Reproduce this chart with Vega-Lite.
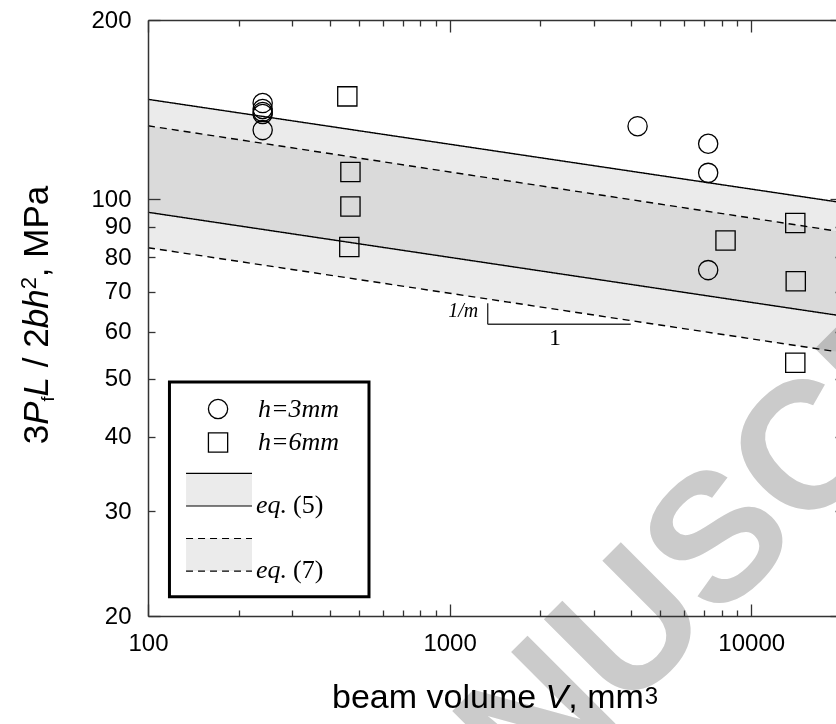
{
  "$schema": "https://vega.github.io/schema/vega-lite/v6.json",
  "width": 694,
  "height": 596,
  "autosize": {"type": "none"},
  "padding": {"left": 148, "top": 20, "right": -6, "bottom": 108},
  "background": "white",
  "config": {"view": {"stroke": null}},
  "datasets": {
    "bands": [
      {"eq": "5", "V": 100, "lo": 95.15, "hi": 147.2},
      {"eq": "5", "V": 20000, "lo": 63.75, "hi": 98.78},
      {"eq": "7", "V": 100, "lo": 82.98, "hi": 132.9},
      {"eq": "7", "V": 20000, "lo": 55.35, "hi": 88.2}
    ],
    "swatches": [
      {"eq": "5", "V": 133.7, "lo": 30.59, "hi": 34.71},
      {"eq": "5", "V": 221.2, "lo": 30.59, "hi": 34.71},
      {"eq": "7", "V": 133.7, "lo": 23.79, "hi": 26.98},
      {"eq": "7", "V": 221.2, "lo": 23.79, "hi": 26.98}
    ],
    "points": [
      {"h": "3mm", "V": 240, "S": 145.1},
      {"h": "3mm", "V": 240, "S": 141.8},
      {"h": "3mm", "V": 240, "S": 140.2},
      {"h": "3mm", "V": 240, "S": 139.1},
      {"h": "3mm", "V": 240, "S": 130.7},
      {"h": "3mm", "V": 4200, "S": 132.7},
      {"h": "3mm", "V": 7200, "S": 124.0},
      {"h": "3mm", "V": 7200, "S": 110.8},
      {"h": "3mm", "V": 7200, "S": 76.1},
      {"h": "6mm", "V": 458, "S": 148.9},
      {"h": "6mm", "V": 469, "S": 111.2},
      {"h": "6mm", "V": 469, "S": 97.3},
      {"h": "6mm", "V": 465, "S": 83.2},
      {"h": "6mm", "V": 8220, "S": 85.3},
      {"h": "6mm", "V": 14000, "S": 91.3},
      {"h": "6mm", "V": 14050, "S": 72.9},
      {"h": "6mm", "V": 14000, "S": 53.2}
    ],
    "legendSymbols": [
      {"h": "3mm", "V": 170.7, "S": 44.5},
      {"h": "6mm", "V": 170.7, "S": 39.09}
    ],
    "legendBox": [{"V": 117.8, "V2": 540.4, "S": 49.39, "S2": 21.55}],
    "slope": [
      {"V": 1337.6, "V2": 1337.6, "S": 66.94, "S2": 61.73},
      {"V": 1337.6, "V2": 3986, "S": 61.73, "S2": 61.73}
    ],
    "legendItalic": [
      {"t": "h=3mm", "V": 231.6, "S": 43.15},
      {"t": "h=6mm", "V": 231.6, "S": 37.91},
      {"t": "eq.", "V": 228.1, "S": 29.78},
      {"t": "eq.", "V": 228.1, "S": 23.16}
    ],
    "legendUpright": [
      {"t": "(5)", "V": 302.6, "S": 29.78},
      {"t": "(7)", "V": 302.6, "S": 23.16}
    ],
    "slopeM": [{"t": "1/m", "V": 1245, "S": 63.56}],
    "slopeOne": [{"t": "1", "V": 2236, "S": 57.0}],
    "yTitle": [
      {"t": "3", "V": 46.6, "S": 38.82},
      {"t": "/ 2", "V": 46.6, "S": 52.28},
      {"t": ", MPa", "V": 46.6, "S": 74.05}
    ],
    "yTitleItalic": [
      {"t": "P", "V": 46.6, "S": 41.86},
      {"t": "L", "V": 46.6, "S": 46.7},
      {"t": "b", "V": 46.6, "S": 60.77},
      {"t": "h", "V": 46.6, "S": 65.53}
    ],
    "yTitleSub": [{"t": "f", "V": 48.8, "S": 45.81}],
    "yTitleSup": [{"t": "2", "V": 42.5, "S": 70.67}],
    "xTitle": [
      {"t": "beam volume", "V": 407.5, "S": 14.0},
      {"t": ", mm", "V": 2474, "S": 14.0}
    ],
    "xTitleItalic": [{"t": "V", "V": 2080, "S": 14.0}],
    "xTitleSup": [{"t": "3", "V": 4436, "S": 14.25}],
    "watermark": [{"t": "ACCEPTED MANUSCRIPT", "V": 1.447, "S": 0.254}]
  },
  "layer": [
    {
      "data": {"name": "bands"},
      "mark": {"type": "area", "fill": "#808080", "fillOpacity": 0.16, "strokeWidth": 0},
      "encoding": {
        "x": {"field": "V", "type": "quantitative", "scale": {"type": "log", "domain": [100, 20000], "nice": false},
          "axis": {"orient": "bottom", "title": null, "grid": false, "zindex": 1,
            "values": [100, 200, 300, 400, 500, 600, 700, 800, 900, 1000, 2000, 3000, 4000, 5000, 6000, 7000, 8000, 9000, 10000],
            "labelExpr": "indexof([100, 1000, 10000], datum.value) >= 0 ? format(datum.value, 'd') : ''",
            "labelFlush": false, "labelOverlap": false,
            "labelFont": "Liberation Sans", "labelFontSize": 24, "labelColor": "#000",
            "labelPadding": 27,
            "tickSize": {"condition": {"test": "indexof([100, 1000, 10000], datum.value) >= 0", "value": -12}, "value": -6},
            "tickColor": "#333", "tickWidth": 1.3, "domainColor": "#333", "domainWidth": 1.5}},
        "y": {"field": "hi", "type": "quantitative", "scale": {"type": "log", "domain": [20, 200], "nice": false},
          "axis": {"orient": "left", "title": null, "grid": false, "zindex": 1,
            "values": [20, 30, 40, 50, 60, 70, 80, 90, 100, 200],
            "format": "d", "labelOverlap": false, "labelFlush": false,
            "labelFont": "Liberation Sans", "labelFontSize": 24, "labelColor": "#000",
            "labelPadding": {"condition": {"test": "indexof([20, 100, 200], datum.value) >= 0", "value": 29}, "value": 24},
            "tickSize": {"condition": {"test": "indexof([20, 100, 200], datum.value) >= 0", "value": -12}, "value": -7},
            "tickColor": "#333", "tickWidth": 1.3, "domainColor": "#333", "domainWidth": 1.5}},
        "y2": {"field": "lo"},
        "detail": {"field": "eq"}
      }
    },
    {
      "data": {"name": "bands"},
      "mark": {"type": "line", "stroke": "black", "strokeWidth": 1.4},
      "encoding": {
        "x": {"field": "V", "type": "quantitative", "scale": {"type": "log", "domain": [100, 20000], "nice": false},
          "axis": {"orient": "top", "title": null, "grid": false, "labels": false, "zindex": 1,
            "values": [100, 200, 300, 400, 500, 600, 700, 800, 900, 1000, 2000, 3000, 4000, 5000, 6000, 7000, 8000, 9000, 10000],
            "tickSize": {"condition": {"test": "indexof([100, 1000, 10000], datum.value) >= 0", "value": -12}, "value": -6},
            "tickColor": "#333", "tickWidth": 1.3, "domainColor": "#333", "domainWidth": 1.5}},
        "y": {"field": "hi", "type": "quantitative", "scale": {"type": "log", "domain": [20, 200], "nice": false},
          "axis": {"orient": "right", "title": null, "grid": false, "labels": false, "zindex": 1,
            "values": [20, 30, 40, 50, 60, 70, 80, 90, 100, 200],
            "tickSize": {"condition": {"test": "indexof([20, 100, 200], datum.value) >= 0", "value": -12}, "value": -7},
            "tickColor": "#333", "tickWidth": 1.3, "domainColor": "#333", "domainWidth": 1.5}},
        "strokeDash": {"field": "eq", "type": "nominal", "scale": {"domain": ["5", "7"], "range": [[1, 0], [7, 5]]}, "legend": null}
      }
    },
    {
      "data": {"name": "bands"},
      "mark": {"type": "line", "stroke": "black", "strokeWidth": 1.4},
      "encoding": {
        "x": {"field": "V", "type": "quantitative", "scale": {"type": "log", "domain": [100, 20000], "nice": false}, "axis": null},
        "y": {"field": "lo", "type": "quantitative", "scale": {"type": "log", "domain": [20, 200], "nice": false}, "axis": null},
        "strokeDash": {"field": "eq", "type": "nominal", "scale": {"domain": ["5", "7"], "range": [[1, 0], [7, 5]]}, "legend": null}
      }
    },
    {
      "data": {"name": "legendBox"},
      "mark": {"type": "rect", "fill": "white", "stroke": "black", "strokeWidth": 3},
      "encoding": {
        "x": {"field": "V", "type": "quantitative", "scale": {"type": "log", "domain": [100, 20000], "nice": false}, "axis": null},
        "x2": {"field": "V2"},
        "y": {"field": "S", "type": "quantitative", "scale": {"type": "log", "domain": [20, 200], "nice": false}, "axis": null},
        "y2": {"field": "S2"}
      }
    },
    {
      "data": {"name": "swatches"},
      "mark": {"type": "area", "fill": "#808080", "fillOpacity": 0.16, "strokeWidth": 0},
      "encoding": {
        "x": {"field": "V", "type": "quantitative", "scale": {"type": "log", "domain": [100, 20000], "nice": false}, "axis": null},
        "y": {"field": "hi", "type": "quantitative", "scale": {"type": "log", "domain": [20, 200], "nice": false}, "axis": null},
        "y2": {"field": "lo"},
        "detail": {"field": "eq"}
      }
    },
    {
      "data": {"name": "swatches"},
      "mark": {"type": "line", "stroke": "black", "strokeWidth": 1.2},
      "encoding": {
        "x": {"field": "V", "type": "quantitative", "scale": {"type": "log", "domain": [100, 20000], "nice": false}, "axis": null},
        "y": {"field": "hi", "type": "quantitative", "scale": {"type": "log", "domain": [20, 200], "nice": false}, "axis": null},
        "strokeDash": {"field": "eq", "type": "nominal", "scale": {"domain": ["5", "7"], "range": [[1, 0], [7, 5]]}, "legend": null}
      }
    },
    {
      "data": {"name": "swatches"},
      "mark": {"type": "line", "stroke": "black", "strokeWidth": 1.2},
      "encoding": {
        "x": {"field": "V", "type": "quantitative", "scale": {"type": "log", "domain": [100, 20000], "nice": false}, "axis": null},
        "y": {"field": "lo", "type": "quantitative", "scale": {"type": "log", "domain": [20, 200], "nice": false}, "axis": null},
        "strokeDash": {"field": "eq", "type": "nominal", "scale": {"domain": ["5", "7"], "range": [[1, 0], [7, 5]]}, "legend": null}
      }
    },
    {
      "data": {"name": "points"},
      "mark": {"type": "point", "filled": false, "stroke": "black", "strokeWidth": 1.3, "opacity": 1, "size": 370},
      "encoding": {
        "x": {"field": "V", "type": "quantitative", "scale": {"type": "log", "domain": [100, 20000], "nice": false}, "axis": null},
        "y": {"field": "S", "type": "quantitative", "scale": {"type": "log", "domain": [20, 200], "nice": false}, "axis": null},
        "shape": {"field": "h", "type": "nominal", "scale": {"domain": ["3mm", "6mm"], "range": ["circle", "square"]}, "legend": null}
      }
    },
    {
      "data": {"name": "legendSymbols"},
      "mark": {"type": "point", "filled": false, "stroke": "black", "strokeWidth": 1.3, "opacity": 1, "size": 370},
      "encoding": {
        "x": {"field": "V", "type": "quantitative", "scale": {"type": "log", "domain": [100, 20000], "nice": false}, "axis": null},
        "y": {"field": "S", "type": "quantitative", "scale": {"type": "log", "domain": [20, 200], "nice": false}, "axis": null},
        "shape": {"field": "h", "type": "nominal", "scale": {"domain": ["3mm", "6mm"], "range": ["circle", "square"]}, "legend": null}
      }
    },
    {
      "data": {"name": "slope"},
      "mark": {"type": "rule", "stroke": "#333", "strokeWidth": 1.4},
      "encoding": {
        "x": {"field": "V", "type": "quantitative", "scale": {"type": "log", "domain": [100, 20000], "nice": false}, "axis": null},
        "x2": {"field": "V2"},
        "y": {"field": "S", "type": "quantitative", "scale": {"type": "log", "domain": [20, 200], "nice": false}, "axis": null},
        "y2": {"field": "S2"}
      }
    },
    {
      "data": {"name": "legendItalic"},
      "mark": {"type": "text", "font": "Liberation Serif", "fontStyle": "italic", "fontSize": 26, "align": "left", "baseline": "alphabetic", "color": "black"},
      "encoding": {
        "x": {"field": "V", "type": "quantitative", "scale": {"type": "log", "domain": [100, 20000], "nice": false}, "axis": null},
        "y": {"field": "S", "type": "quantitative", "scale": {"type": "log", "domain": [20, 200], "nice": false}, "axis": null},
        "text": {"field": "t"}
      }
    },
    {
      "data": {"name": "legendUpright"},
      "mark": {"type": "text", "font": "Liberation Serif", "fontSize": 26, "align": "left", "baseline": "alphabetic", "color": "black"},
      "encoding": {
        "x": {"field": "V", "type": "quantitative", "scale": {"type": "log", "domain": [100, 20000], "nice": false}, "axis": null},
        "y": {"field": "S", "type": "quantitative", "scale": {"type": "log", "domain": [20, 200], "nice": false}, "axis": null},
        "text": {"field": "t"}
      }
    },
    {
      "data": {"name": "slopeM"},
      "mark": {"type": "text", "font": "Liberation Serif", "fontStyle": "italic", "fontSize": 20, "align": "right", "baseline": "alphabetic", "color": "black"},
      "encoding": {
        "x": {"field": "V", "type": "quantitative", "scale": {"type": "log", "domain": [100, 20000], "nice": false}, "axis": null},
        "y": {"field": "S", "type": "quantitative", "scale": {"type": "log", "domain": [20, 200], "nice": false}, "axis": null},
        "text": {"field": "t"}
      }
    },
    {
      "data": {"name": "slopeOne"},
      "mark": {"type": "text", "font": "Liberation Serif", "fontSize": 24, "align": "center", "baseline": "alphabetic", "color": "black"},
      "encoding": {
        "x": {"field": "V", "type": "quantitative", "scale": {"type": "log", "domain": [100, 20000], "nice": false}, "axis": null},
        "y": {"field": "S", "type": "quantitative", "scale": {"type": "log", "domain": [20, 200], "nice": false}, "axis": null},
        "text": {"field": "t"}
      }
    },
    {
      "data": {"name": "yTitle"},
      "mark": {"type": "text", "font": "Liberation Sans", "fontSize": 35, "angle": 270, "align": "left", "baseline": "alphabetic", "color": "black"},
      "encoding": {
        "x": {"field": "V", "type": "quantitative", "scale": {"type": "log", "domain": [100, 20000], "nice": false}, "axis": null},
        "y": {"field": "S", "type": "quantitative", "scale": {"type": "log", "domain": [20, 200], "nice": false}, "axis": null},
        "text": {"field": "t"}
      }
    },
    {
      "data": {"name": "yTitleItalic"},
      "mark": {"type": "text", "font": "Liberation Sans", "fontStyle": "italic", "fontSize": 35, "angle": 270, "align": "left", "baseline": "alphabetic", "color": "black"},
      "encoding": {
        "x": {"field": "V", "type": "quantitative", "scale": {"type": "log", "domain": [100, 20000], "nice": false}, "axis": null},
        "y": {"field": "S", "type": "quantitative", "scale": {"type": "log", "domain": [20, 200], "nice": false}, "axis": null},
        "text": {"field": "t"}
      }
    },
    {
      "data": {"name": "yTitleSub"},
      "mark": {"type": "text", "font": "Liberation Sans", "fontSize": 18, "angle": 270, "align": "left", "baseline": "alphabetic", "color": "black"},
      "encoding": {
        "x": {"field": "V", "type": "quantitative", "scale": {"type": "log", "domain": [100, 20000], "nice": false}, "axis": null},
        "y": {"field": "S", "type": "quantitative", "scale": {"type": "log", "domain": [20, 200], "nice": false}, "axis": null},
        "text": {"field": "t"}
      }
    },
    {
      "data": {"name": "yTitleSup"},
      "mark": {"type": "text", "font": "Liberation Sans", "fontSize": 22, "angle": 270, "align": "left", "baseline": "alphabetic", "color": "black"},
      "encoding": {
        "x": {"field": "V", "type": "quantitative", "scale": {"type": "log", "domain": [100, 20000], "nice": false}, "axis": null},
        "y": {"field": "S", "type": "quantitative", "scale": {"type": "log", "domain": [20, 200], "nice": false}, "axis": null},
        "text": {"field": "t"}
      }
    },
    {
      "data": {"name": "xTitle"},
      "mark": {"type": "text", "font": "Liberation Sans", "fontSize": 34, "align": "left", "baseline": "alphabetic", "color": "black"},
      "encoding": {
        "x": {"field": "V", "type": "quantitative", "scale": {"type": "log", "domain": [100, 20000], "nice": false}, "axis": null},
        "y": {"field": "S", "type": "quantitative", "scale": {"type": "log", "domain": [20, 200], "nice": false}, "axis": null},
        "text": {"field": "t"}
      }
    },
    {
      "data": {"name": "xTitleItalic"},
      "mark": {"type": "text", "font": "Liberation Sans", "fontStyle": "italic", "fontSize": 34, "align": "left", "baseline": "alphabetic", "color": "black"},
      "encoding": {
        "x": {"field": "V", "type": "quantitative", "scale": {"type": "log", "domain": [100, 20000], "nice": false}, "axis": null},
        "y": {"field": "S", "type": "quantitative", "scale": {"type": "log", "domain": [20, 200], "nice": false}, "axis": null},
        "text": {"field": "t"}
      }
    },
    {
      "data": {"name": "xTitleSup"},
      "mark": {"type": "text", "font": "Liberation Sans", "fontSize": 24, "align": "left", "baseline": "alphabetic", "color": "black"},
      "encoding": {
        "x": {"field": "V", "type": "quantitative", "scale": {"type": "log", "domain": [100, 20000], "nice": false}, "axis": null},
        "y": {"field": "S", "type": "quantitative", "scale": {"type": "log", "domain": [20, 200], "nice": false}, "axis": null},
        "text": {"field": "t"}
      }
    },
    {
      "data": {"name": "watermark"},
      "mark": {"type": "text", "font": "Liberation Sans", "fontWeight": "bold", "fontSize": 181, "angle": 315, "align": "left", "baseline": "alphabetic", "color": "#cbcbcb", "blend": "multiply"},
      "encoding": {
        "x": {"field": "V", "type": "quantitative", "scale": {"type": "log", "domain": [100, 20000], "nice": false}, "axis": null},
        "y": {"field": "S", "type": "quantitative", "scale": {"type": "log", "domain": [20, 200], "nice": false}, "axis": null},
        "text": {"field": "t"}
      }
    }
  ],
  "resolve": {"axis": {"x": "independent", "y": "independent"}}
}
